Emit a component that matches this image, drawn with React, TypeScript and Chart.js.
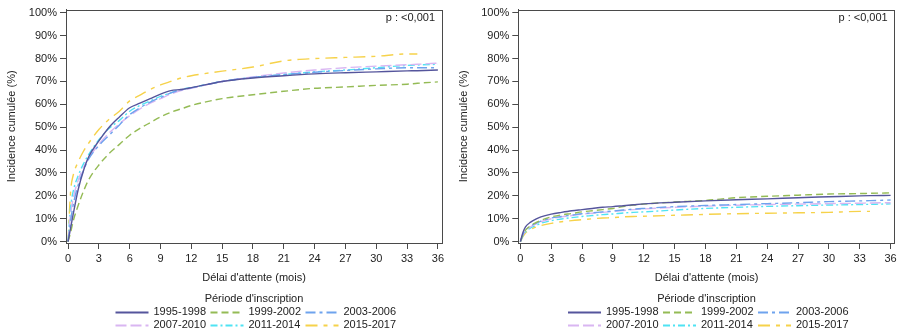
import React, { useEffect, useRef } from "react";
import { Chart, registerables } from "chart.js";

Chart.register(...registerables);

const months = [0, 0.25, 0.5, 1, 1.5, 2, 3, 4, 5, 6, 7, 8, 9, 10, 11, 12, 15, 18, 21, 24, 27, 30, 33, 34, 36];

const periods = ["1995-1998", "1999-2002", "2003-2006", "2007-2010", "2011-2014", "2015-2017"];

// Left panel values (%)
const leftP1 = [0, 6, 12, 23, 31, 37, 44, 50, 54.5, 58.5, 60.5, 62.5, 64.5, 66, 66.5, 67.3, 70, 71.5, 72.5, 73.3, 73.8, 74.2, 74.6, 74.7, 75];
const leftP2 = [0, 4, 9, 16, 22, 27, 33.5, 38.5, 42.5, 46.5, 49.5, 52, 54.5, 56.5, 58, 59.5, 62.5, 64.2, 65.7, 67, 67.6, 68.3, 68.8, 69.2, 69.8];
const leftP3 = [0, 9, 16, 25, 31, 36, 42, 46.5, 51, 55.5, 58.5, 61, 63, 65, 66.3, 67.2, 70, 71.8, 73, 74, 74.8, 75.5, 76, 76, 76];
const leftP4 = [0, 12, 19, 27, 32.5, 36.5, 42.5, 47.5, 51.5, 55, 58, 60.5, 62.5, 64.5, 66, 67, 70, 72, 73.7, 75, 76, 76.7, 77.3, 77.5, 78];
const leftP5 = [0, 15, 22, 29, 34, 38, 44.5, 49.5, 53, 57, 59.5, 61.5, 63.5, 65, 66.5, 67.3, 70, 71.7, 73, 74.2, 75, 76, 77, 77.2, 77.5];
const leftP6 = [0, 22, 29, 35, 39.5, 43, 49, 53.5, 57, 61.5, 64, 66.5, 68.5, 70, 71.5, 72.5, 74.5, 76.3, 79, 80, 80.5, 81, 82, 82, null];

// Right panel values (%)
const rightP1 = [0, 4, 6.5, 8.5, 9.8, 10.8, 12, 12.8, 13.5, 14, 14.5, 15, 15.3, 15.7, 16.1, 16.5, 17.2, 17.8, 18.3, 18.7, 19.2, 19.6, 20, 20.1, 20.2];
const rightP2 = [0, 3, 5, 7, 8.3, 9.3, 10.8, 11.7, 12.3, 13, 13.5, 14, 14.5, 15.3, 16, 16.4, 17.3, 18, 19.2, 19.8, 20.3, 20.8, 21, 21.1, 21.3];
const rightP3 = [0, 3, 5, 6.8, 8, 9, 10.3, 11, 11.6, 12.2, 12.6, 13, 13.4, 13.8, 14.2, 14.5, 15.3, 15.8, 16.2, 16.6, 17, 17.5, 17.8, 17.9, 18.2];
const rightP4 = [0, 2.8, 4.7, 6.5, 7.7, 8.7, 10, 10.8, 11.4, 12, 12.4, 12.8, 13.2, 13.6, 14, 14.3, 15, 15.5, 15.9, 16.2, 16.4, 16.6, 16.8, 16.9, 17];
const rightP5 = [0, 2.5, 4.2, 6, 7, 8, 9.2, 9.9, 10.5, 11, 11.4, 11.8, 12.1, 12.5, 12.8, 13, 13.8, 14.5, 15, 15.4, 15.7, 16, 16.2, 16.3, 16.5];
const rightP6 = [0, 2.2, 3.8, 5.3, 6.3, 7, 8, 8.7, 9.2, 9.6, 10, 10.3, 10.5, 10.8, 11, 11.1, 11.5, 11.9, 12.2, 12.4, 12.6, 12.8, 13.2, 13.2, null];

const xTicks = [0, 3, 6, 9, 12, 15, 18, 21, 24, 27, 30, 33, 36];
const yTicks = [0, 10, 20, 30, 40, 50, 60, 70, 80, 90, 100];

const colors = ["#55559c", "#94bb55", "#6ea3ee", "#d9b6f2", "#4fe3f3", "#f6d24a"];
const dashes = [[], [7, 4], [10, 4, 3, 4], [11, 4], [7, 3, 2, 3], [12, 6, 4, 6]];

const FONT = "'Liberation Sans', Arial, sans-serif";
const TEXT = "#222222";
const AXIS = "#4a4a4a";

function buildDatasets(series: (number | null)[][]) {
  return series.map((vals, i) => ({
    label: periods[i],
    data: months.map((m, j) => ({ x: m, y: vals[j] })),
    borderColor: colors[i],
    backgroundColor: colors[i],
    borderDash: dashes[i],
    borderWidth: 1.4,
    pointRadius: 0,
    fill: false,
    cubicInterpolationMode: "monotone" as const,
    spanGaps: false,
  }));
}

const framePlugin = {
  id: "frameAndLegend",
  afterDraw(chart: any) {
    const { ctx, chartArea } = chart;
    const ca = chartArea;
    ctx.save();
    ctx.strokeStyle = AXIS;
    ctx.lineWidth = 1;
    ctx.setLineDash([]);
    ctx.strokeRect(Math.round(ca.left) + 0.5, Math.round(ca.top) + 0.5, Math.round(ca.right - ca.left), Math.round(ca.bottom - ca.top));
    ctx.fillStyle = TEXT;
    ctx.font = `11px ${FONT}`;
    ctx.textAlign = "right";
    ctx.textBaseline = "middle";
    ctx.fillText("p : <0,001", ca.right - 7, 18);
    const cx = (ca.left + ca.right) / 2;
    ctx.textAlign = "center";
    ctx.fillText("Période d'inscription", cx, 299);
    const ds = chart.data.datasets;
    ds.forEach((d: any, i: number) => {
      const col = i % 3;
      const row = Math.floor(i / 3);
      const x0 = cx - 138.5 + col * 95;
      const y = 312 + row * 13;
      ctx.strokeStyle = d.borderColor;
      ctx.lineWidth = 2;
      ctx.setLineDash(d.borderDash || []);
      ctx.beginPath();
      ctx.moveTo(x0, y + 0.5);
      ctx.lineTo(x0 + 33, y + 0.5);
      ctx.stroke();
      ctx.setLineDash([]);
      ctx.fillStyle = TEXT;
      ctx.textAlign = "left";
      ctx.fillText(d.label, x0 + 38, y);
    });
    ctx.restore();
  },
};

function makeConfig(series: (number | null)[][], padLeft: number, padRight: number): any {
  return {
    type: "line",
    data: { datasets: buildDatasets(series) },
    options: {
      responsive: false,
      animation: false,
      events: [],
      layout: { padding: { left: padLeft, right: padRight, top: 9, bottom: 43 } },
      plugins: { legend: { display: false }, tooltip: { enabled: false } },
      scales: {
        x: {
          type: "linear",
          min: -0.2,
          max: 36.4,
          afterBuildTicks: (s: any) => {
            s.ticks = xTicks.map((v) => ({ value: v }));
          },
          afterFit: (s: any) => {
            s.height = 50;
          },
          ticks: {
            autoSkip: false,
            maxRotation: 0,
            padding: 3,
            color: TEXT,
            font: { family: FONT, size: 11 },
            callback: (v: any) => String(v),
          },
          grid: { drawOnChartArea: false, drawTicks: true, tickLength: 6, color: AXIS },
          border: { display: true, color: AXIS },
          title: {
            display: true,
            text: "Délai d'attente (mois)",
            color: TEXT,
            font: { family: FONT, size: 11 },
            padding: { top: 0, bottom: 8.5 },
          },
        },
        y: {
          type: "linear",
          min: -0.6,
          max: 101.4,
          afterBuildTicks: (s: any) => {
            s.ticks = yTicks.map((v) => ({ value: v }));
          },
          afterFit: (s: any) => {
            s.width = 66;
          },
          ticks: {
            autoSkip: false,
            padding: 3,
            color: TEXT,
            font: { family: FONT, size: 11 },
            callback: (v: any) => `${v}%`,
          },
          grid: { drawOnChartArea: false, drawTicks: true, tickLength: 6, color: AXIS },
          border: { display: true, color: AXIS },
          title: {
            display: true,
            text: "Incidence cumulée (%)",
            color: TEXT,
            font: { family: FONT, size: 11 },
            padding: { top: 5.4, bottom: 0 },
          },
        },
      },
    },
    plugins: [framePlugin],
  };
}

function Panel({ series, padLeft, padRight }: { series: (number | null)[][]; padLeft: number; padRight: number }) {
  const ref = useRef<HTMLCanvasElement>(null);
  useEffect(() => {
    if (!ref.current) return;
    const chart = new Chart(ref.current, makeConfig(series, padLeft, padRight));
    return () => chart.destroy();
  }, []);
  return <canvas ref={ref} width={450} height={336} style={{ display: "block", width: 450, height: 336 }} />;
}

export default function App() {
  return (
    <div style={{ position: "fixed", left: 0, top: 0, width: 900, height: 336, display: "flex", background: "#fff" }}>
      <Panel series={[leftP1, leftP2, leftP3, leftP4, leftP5, leftP6]} padLeft={0} padRight={8} />
      <Panel series={[rightP1, rightP2, rightP3, rightP4, rightP5, rightP6]} padLeft={2.3} padRight={5.3} />
    </div>
  );
}
